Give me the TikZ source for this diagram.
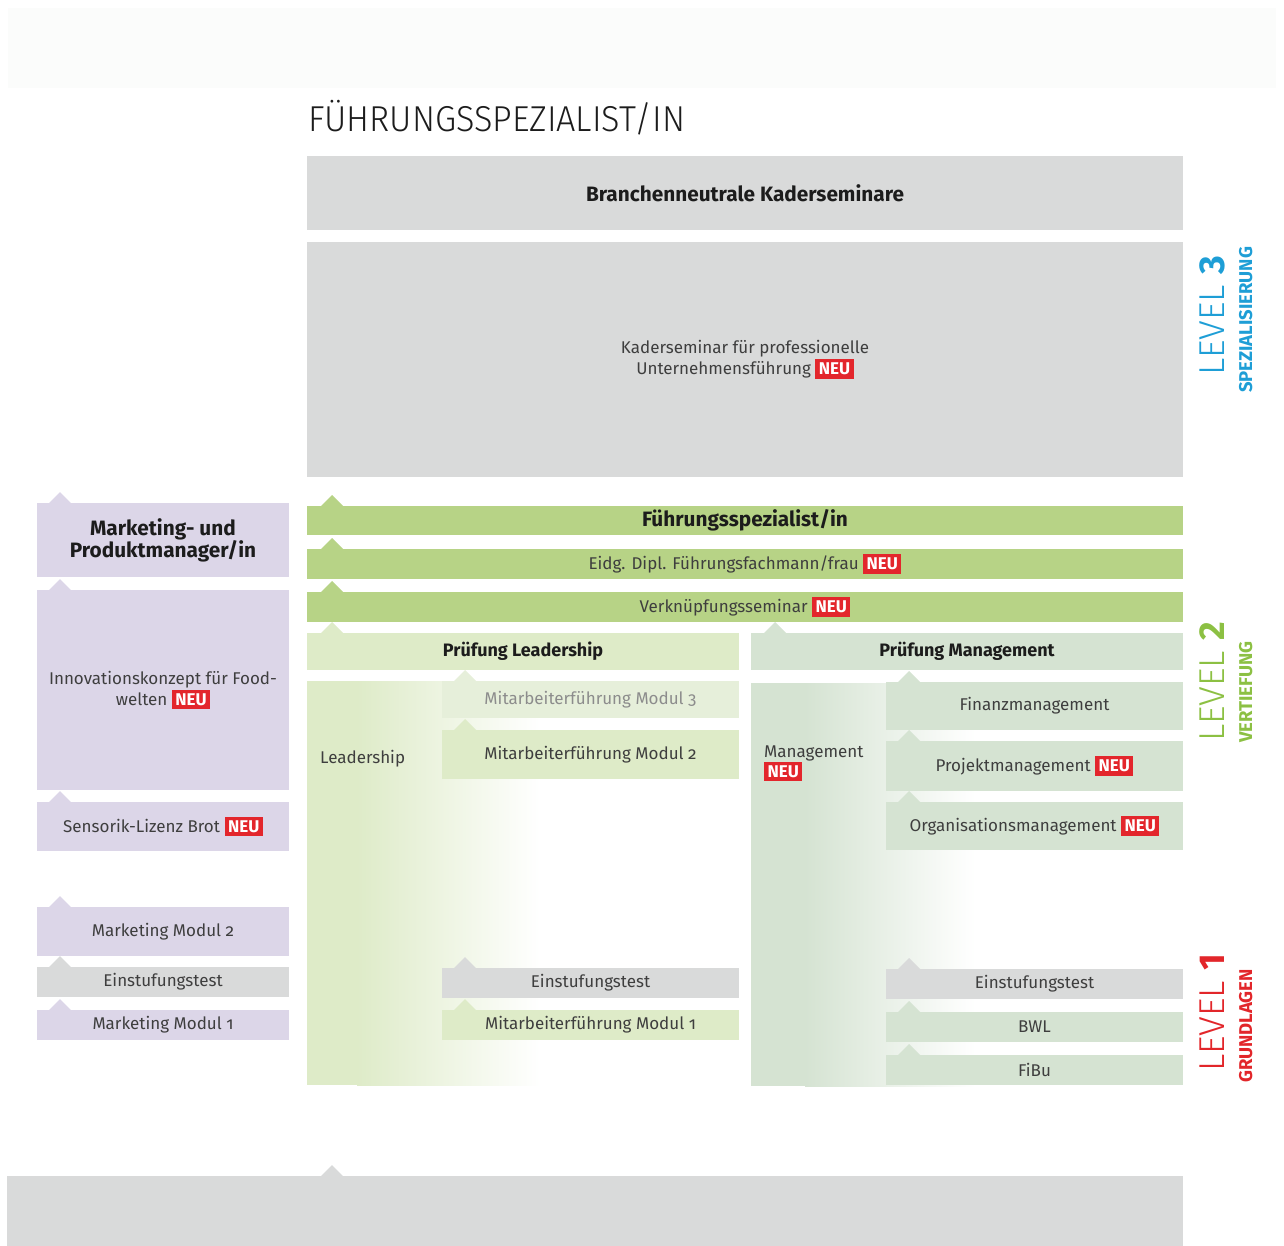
\documentclass[tikz,border=0pt]{standalone}
\usepackage{fontspec}
\setmainfont{Fira Sans}[Numbers=OldStyle]
\newfontfamily\thinfont{Fira Sans Light}
\newfontfamily\lvfont{Fira Sans}
\usepackage{graphicx}
\usepackage{tikz}
\usetikzlibrary{positioning}
\definecolor{kfaint}{RGB}{251,252,251}
\definecolor{kgray}{RGB}{217,218,218}
\definecolor{klila}{RGB}{220,214,232}
\definecolor{kgreen}{RGB}{183,211,134}
\definecolor{klight}{RGB}{222,235,200}
\definecolor{kpale}{RGB}{230,239,218}
\definecolor{ksage}{RGB}{213,227,210}
\definecolor{ktext}{RGB}{62,62,62}
\definecolor{kdark}{RGB}{28,28,28}
\definecolor{neured}{RGB}{227,38,44}
\definecolor{lvblue}{RGB}{30,158,214}
\definecolor{lvgreen}{RGB}{140,192,67}
\definecolor{lvred}{RGB}{226,38,42}
\newcommand{\neu}{{\setlength{\fboxsep}{3.5pt}\colorbox{neured}{\textcolor{white}{\fontsize{17}{17}\selectfont\bfseries NEU}}}}
\newcommand{\notch}[3]{\fill[#3] (#1-11,#2) -- (#1,#2-11) -- (#1+11,#2) -- cycle;}
\tikzset{
  box/.style={anchor=north west, inner sep=0pt, outer sep=0pt, text=ktext, align=center, font=\fontsize{17}{21}\selectfont},
  head/.style={box, text=kdark, font=\fontsize{18}{22}\selectfont\bfseries},
  bighead/.style={head, font=\fontsize{20.8}{22}\selectfont\bfseries},
  label/.style={inner sep=0pt, text=ktext, font=\fontsize{17}{21}\selectfont},
  level/.style={rotate=90, anchor=base west, inner sep=0pt, font=\thinfont\fontsize{36}{36}\selectfont},
  levelsub/.style={rotate=90, anchor=base west, inner sep=0pt, font=\lvfont\bfseries\fontsize{18.5}{18.5}\selectfont},
}

\begin{document}
\begin{tikzpicture}[x=1pt,y=-1pt]
    \useasboundingbox (0,0) rectangle (1284,1246);
    \fill[kfaint] (8,8) rectangle (1276,88);
    \node[anchor=base west, inner sep=0pt, text=kdark, font=\thinfont\fontsize{36}{36}\selectfont] (titel) at (308,132) {\scalebox{0.95}[1]{FÜHRUNGSSPEZIALIST/IN}};

    % level 3
    \node[bighead, fill=kgray, minimum width=876pt, minimum height=74pt] (branche) at (307,156) {Branchenneutrale Kaderseminare};
    \node[box, fill=kgray, minimum width=876pt, minimum height=235pt] (kader) at (307,242) {Kaderseminar für professionelle\\Unternehmensführung \neu};

    % marketing column
    \notch{60}{503}{klila}
    \node[bighead, fill=klila, minimum width=252pt, minimum height=74pt] (mpm) at (37,503) {Marketing- und\\Produktmanager/in};
    \notch{60}{590}{klila}
    \node[box, fill=klila, minimum width=252pt, minimum height=200pt] (innov) at (37,590) {Innovationskonzept für Food-\\welten \neu};
    \notch{60}{802}{klila}
    \node[box, fill=klila, minimum width=252pt, minimum height=49pt] (sensorik) at (37,802) {Sensorik-Lizenz Brot \neu};
    \notch{60}{907}{klila}
    \node[box, fill=klila, minimum width=252pt, minimum height=49pt] (mm2) at (37,907) {Marketing Modul 2};
    \notch{60}{967}{kgray}
    \node[box, fill=kgray, minimum width=252pt, minimum height=30pt] (einstl) at (37,967) {Einstufungstest};
    \notch{60}{1010}{klila}
    \node[box, fill=klila, minimum width=252pt, minimum height=30pt] (mm1) at (37,1010) {Marketing Modul 1};

    % level 2 bars
    \notch{332}{506}{kgreen}
    \node[bighead, fill=kgreen, minimum width=876pt, minimum height=29pt] (fsp) at (307,506) {Führungsspezialist/in};
    \notch{332}{549}{kgreen}
    \node[box, fill=kgreen, minimum width=876pt, minimum height=30pt] (eidg) at (307,549) {Eidg. Dipl. Führungsfachmann/frau \neu};
    \notch{332}{592}{kgreen}
    \node[box, fill=kgreen, minimum width=876pt, minimum height=30pt] (verkn) at (307,592) {Verknüpfungsseminar \neu};
    \notch{332}{633}{klight}
    \node[head, fill=klight, minimum width=432pt, minimum height=37pt] (pruefl) at (307,633) {Prüfung Leadership};
    \notch{775}{633}{ksage}
    \node[head, fill=ksage, minimum width=432pt, minimum height=37pt] (pruefm) at (751,633) {Prüfung Management};

    % leadership column
    \fill[klight] (307,681) rectangle (357,1085);
    \shade[left color=klight, right color=white] (357,681) rectangle (540,1085);
    \node[label, anchor=west] (lead) at (320,759) {Leadership};
    \notch{465}{681}{kpale}
    \node[box, fill=kpale, text=black!45, minimum width=297pt, minimum height=37pt] (ma3) at (442,681) {Mitarbeiterführung Modul 3};
    \notch{465}{730}{klight}
    \node[box, fill=klight, minimum width=297pt, minimum height=49pt] (ma2) at (442,730) {Mitarbeiterführung Modul 2};
    \notch{465}{968}{kgray}
    \node[box, fill=kgray, minimum width=297pt, minimum height=30pt] (einstm) at (442,968) {Einstufungstest};
    \notch{465}{1010}{klight}
    \node[box, fill=klight, minimum width=297pt, minimum height=30pt] (ma1) at (442,1010) {Mitarbeiterführung Modul 1};

    % management column
    \fill[ksage] (751,683) rectangle (805,1086);
    \shade[left color=ksage, right color=white] (805,683) rectangle (975,1086);
    \node[label, anchor=base west] (mgmt) at (764,757) {Management};
    \node[anchor=north west, inner sep=0pt] (mgmtneu) at ([yshift=-1pt]mgmt.south west) {\neu};
    \notch{909}{682}{ksage}
    \node[box, fill=ksage, minimum width=297pt, minimum height=48pt] (finanz) at (886,682) {Finanzmanagement};
    \notch{909}{741}{ksage}
    \node[box, fill=ksage, minimum width=297pt, minimum height=50pt] (projekt) at (886,741) {Projektmanagement \neu};
    \notch{909}{802}{ksage}
    \node[box, fill=ksage, minimum width=297pt, minimum height=48pt] (orga) at (886,802) {Organisationsmanagement \neu};
    \notch{909}{969}{kgray}
    \node[box, fill=kgray, minimum width=297pt, minimum height=30pt] (einstr) at (886,969) {Einstufungstest};
    \notch{909}{1012}{ksage}
    \node[box, fill=ksage, minimum width=297pt, minimum height=30pt] (bwl) at (886,1012) {BWL};
    \notch{909}{1055}{ksage}
    \node[box, fill=ksage, minimum width=297pt, minimum height=30pt] (fibu) at (886,1055) {FiBu};

    % bottom band
    \notch{332}{1176}{kgray}
    \fill[kgray] (7,1176) rectangle (1183,1246);

    % level labels
    \node[level, text=lvblue] (lv3) at (1224,376) {LEVEL {\lvfont\bfseries 3}};
    \node[levelsub, text=lvblue] (spez) at (1252,393) {SPEZIALISIERUNG};
    \node[level, text=lvgreen] (lv2) at (1224,742) {LEVEL {\lvfont\bfseries 2}};
    \node[levelsub, text=lvgreen] (vert) at (1252,743) {VERTIEFUNG};
    \node[level, text=lvred] (lv1) at (1224,1072) {LEVEL {\lvfont\bfseries 1}};
    \node[levelsub, text=lvred] (grund) at (1252,1083) {GRUNDLAGEN};
\end{tikzpicture}
\end{document}
